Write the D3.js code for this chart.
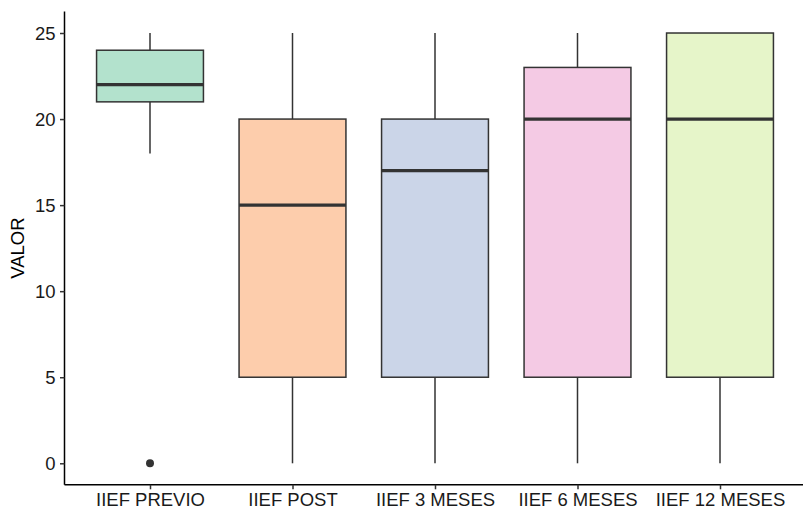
<!DOCTYPE html>
<html>
<head>
<meta charset="utf-8">
<script src="https://cdn.jsdelivr.net/npm/d3@7"></script>
<style>
  html, body { margin: 0; padding: 0; background: #fff; }
  svg { display: block; font-family: "Liberation Sans", Arial, sans-serif; }
</style>
</head>
<body>
<svg id="chart" width="803" height="513"></svg>
<script>
// Groups on the x axis
const categories = ["IIEF PREVIO", "IIEF POST", "IIEF 3 MESES", "IIEF 6 MESES", "IIEF 12 MESES"];
// Five-number summaries per group
const whiskerLow  = [18, 0, 0, 0, 0];
const q1          = [21, 5, 5, 5, 5];
const median      = [22, 15, 17, 20, 20];
const q3          = [24, 20, 20, 23, 25];
const whiskerHigh = [25, 25, 25, 25, 25];
// Points beyond the whiskers
const outliers = [[0], [], [], [], []];
// Box fills
const fills = ["#B3E2CD", "#FDCDAC", "#CBD5E8", "#F4CAE4", "#E6F5C9"];
// Y axis ticks
const yTicks = [0, 5, 10, 15, 20, 25];

const svg = d3.select("#chart");
const margin = { left: 64.5, top: 11.5, bottom: 484.8 };
const step = 142.5;
const xLeft = margin.left;
const xRight = xLeft + step * (categories.length - 1 + 1.2);

// Discrete x positions with 0.6-step expansion on both sides
const x = d3.scalePoint()
  .domain(categories)
  .range([xLeft, xRight])
  .padding(0.6);

const y = d3.scaleLinear().domain([-1.25, 26.25]).range([margin.bottom, margin.top]);

const ink = "#333333";
const boxW = step * 0.75;
const fontSize = 18.5;

const g = svg.append("g");

categories.forEach((c, i) => {
  const cx = x(c);
  // whiskers
  g.append("line").attr("x1", cx).attr("x2", cx)
    .attr("y1", y(whiskerHigh[i])).attr("y2", y(q3[i]))
    .attr("stroke", ink).attr("stroke-width", 1.5);
  g.append("line").attr("x1", cx).attr("x2", cx)
    .attr("y1", y(q1[i])).attr("y2", y(whiskerLow[i]))
    .attr("stroke", ink).attr("stroke-width", 1.5);
  // box
  g.append("rect")
    .attr("x", cx - boxW / 2).attr("width", boxW)
    .attr("y", y(q3[i])).attr("height", y(q1[i]) - y(q3[i]))
    .attr("fill", fills[i]).attr("stroke", ink).attr("stroke-width", 1.5);
  // median
  g.append("line")
    .attr("x1", cx - boxW / 2).attr("x2", cx + boxW / 2)
    .attr("y1", y(median[i])).attr("y2", y(median[i]))
    .attr("stroke", ink).attr("stroke-width", 3.2);
  // outliers
  outliers[i].forEach(v => {
    g.append("circle").attr("cx", cx).attr("cy", y(v)).attr("r", 4).attr("fill", ink);
  });
});

// Axes
const yAxis = d3.axisLeft(y).tickValues(yTicks).tickSize(4.5).tickPadding(4.5);
const ya = svg.append("g").attr("transform", `translate(${xLeft},0)`).call(yAxis);
ya.select(".domain").attr("d", `M0,${margin.top}V${margin.bottom}`);

const xAxis = d3.axisBottom(x).tickSize(4.5).tickPadding(4);
const xa = svg.append("g").attr("transform", `translate(0,${margin.bottom})`).call(xAxis);
xa.select(".domain").attr("d", `M${xLeft},0H${xRight}`);

[ya, xa].forEach(a => {
  a.select(".domain").attr("stroke", "#000").attr("stroke-width", 1.5);
  a.selectAll(".tick line").attr("stroke", "#333").attr("stroke-width", 1.5);
  a.selectAll(".tick text").attr("fill", "#1a1a1a").attr("font-size", fontSize)
    .attr("font-family", "Liberation Sans, Arial, sans-serif");
});
ya.selectAll(".tick text").attr("dy", "0.36em");

// Y axis title
svg.append("text")
  .attr("transform", `translate(24,${(margin.top + margin.bottom) / 2}) rotate(-90)`)
  .attr("text-anchor", "middle")
  .attr("font-size", fontSize)
  .attr("fill", "#000")
  .text("VALOR");
</script>
</body>
</html>
